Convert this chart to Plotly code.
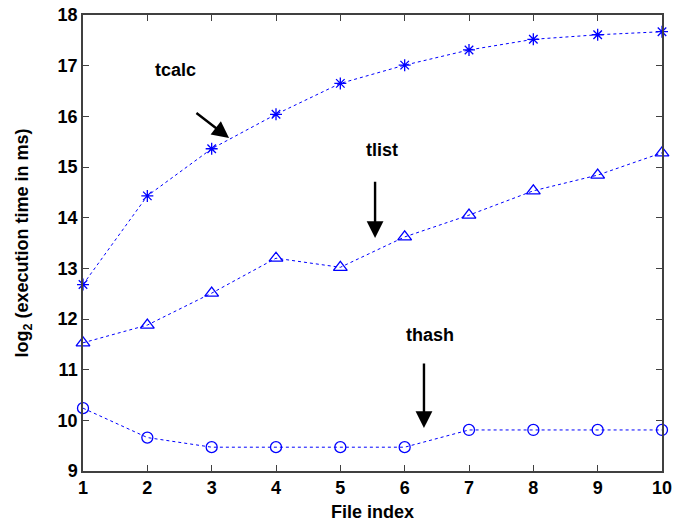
import plotly.graph_objects as go

file_index = [1, 2, 3, 4, 5, 6, 7, 8, 9, 10]
tcalc = [12.68, 14.43, 15.36, 16.04, 16.65, 17.01, 17.31, 17.52, 17.61, 17.67]
tlist = [11.53, 11.88, 12.51, 13.20, 13.02, 13.62, 14.05, 14.53, 14.84, 15.28]
thash = [10.24, 9.66, 9.47, 9.47, 9.47, 9.47, 9.81, 9.81, 9.81, 9.81]

labels = ["tcalc", "tlist", "thash"]
label_pos = [(2.43, 16.91), (5.65, 15.34), (6.39, 11.68)]
arrow_tail = [(2.74, 16.09), (5.54, 14.74), (6.30, 11.15)]
arrow_head = [(3.27, 15.57), (5.54, 13.60), (6.30, 9.85)]

blue = "rgb(0,0,255)"
fig = go.Figure()
for y, sym, sz in [(tcalc, "asterisk-open", 10), (tlist, "triangle-up-open", 12), (thash, "circle-open", 11)]:
    fig.add_trace(go.Scatter(
        x=file_index, y=y, mode="lines+markers",
        line=dict(color=blue, width=1, dash="3px,3px"),
        marker=dict(symbol=sym, size=sz, color=blue, line=dict(color=blue, width=1.3)),
        showlegend=False, cliponaxis=False))

fam = "Liberation Sans, Arial, sans-serif"
font = dict(family=fam, size=18, color="black")
for lab, (lx, ly), (tx, ty), (hx, hy) in zip(labels, label_pos, arrow_tail, arrow_head):
    fig.add_annotation(x=lx, y=ly, text="<b>" + lab + "</b>", showarrow=False, font=font)
    fig.add_annotation(x=hx, y=hy, ax=tx, ay=ty, xref="x", yref="y", axref="x", ayref="y",
                       text="", showarrow=True, arrowhead=2, arrowsize=1.4, arrowwidth=2.4,
                       arrowcolor="black")

axis_common = dict(showgrid=False, zeroline=False, showline=True, linecolor="#404040", linewidth=1.5,
                   mirror="ticks", ticks="inside", ticklen=6, tickcolor="#404040", automargin=False,
                   ticklabeloverflow="allow",
                   tickfont=dict(family=fam, size=18, color="black"))
fig.update_xaxes(range=[1, 10], tickvals=file_index, ticktext=["<b>%d</b>" % v for v in file_index],
                 title=dict(text="<b>File index</b>", font=font, standoff=8), **axis_common)
fig.update_yaxes(range=[9, 18], tickvals=list(range(9, 19)),
                 ticktext=["<b>%d</b>" % v for v in range(9, 19)],
                 title=dict(text="<b>log<sub>2</sub> (execution time in ms)</b>", font=font, standoff=24),
                 **axis_common)
fig.update_layout(width=675, height=527, margin=dict(l=83, r=13, t=15, b=56),
                  plot_bgcolor="white", paper_bgcolor="white")
fig.write_html("out.html", config={"displayModeBar": False},
               post_script="document.body.style.margin='0px';document.body.style.overflow='hidden';")
